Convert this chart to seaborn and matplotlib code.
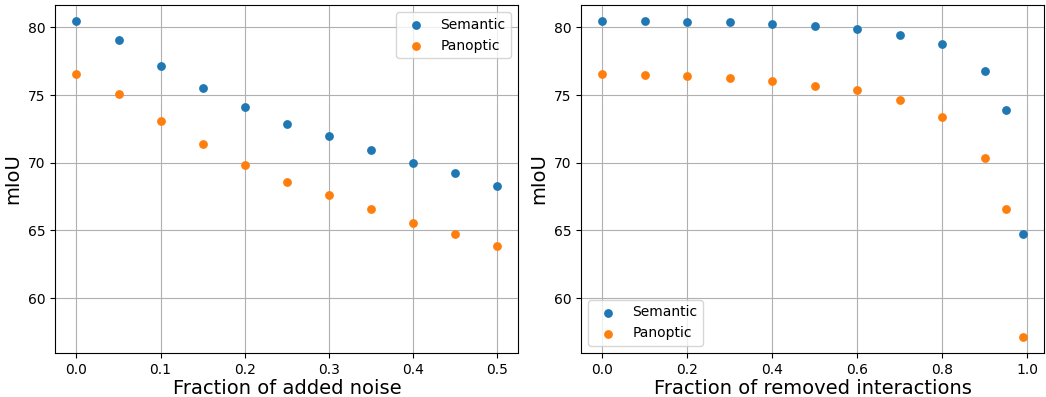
import matplotlib
matplotlib.use("Agg")
import matplotlib.pyplot as plt
import seaborn as sns

# left panel: noise
noise_frac = [0.0, 0.05, 0.1, 0.15, 0.2, 0.25, 0.3, 0.35, 0.4, 0.45, 0.5]
noise_semantic = [80.5, 79.08, 77.18, 75.5, 74.09, 72.87, 71.95, 70.97, 70.0, 69.25, 68.3]
noise_panoptic = [76.59, 75.06, 73.09, 71.36, 69.85, 68.61, 67.59, 66.59, 65.55, 64.74, 63.84]

# right panel: removed interactions
removed_frac = [0.0, 0.1, 0.2, 0.3, 0.4, 0.5, 0.6, 0.7, 0.8, 0.9, 0.95, 0.99]
removed_semantic = [80.47, 80.47, 80.42, 80.37, 80.25, 80.07, 79.88, 79.46, 78.79, 76.8, 73.92, 64.72]
removed_panoptic = [76.58, 76.51, 76.38, 76.26, 76.04, 75.69, 75.35, 74.66, 73.41, 70.36, 66.57, 57.12]

colors = sns.color_palette("tab10", 2)

fig, (ax1, ax2) = plt.subplots(1, 2, figsize=(10.46, 3.97), dpi=100)

panels = [
    (ax1, noise_frac, noise_semantic, noise_panoptic, "Fraction of added noise", "upper right"),
    (ax2, removed_frac, removed_semantic, removed_panoptic, "Fraction of removed interactions", "lower left"),
]
for ax, x, sem, pan, xlabel, loc in panels:
    sns.scatterplot(x=x, y=sem, ax=ax, color=colors[0], s=40, edgecolor="face", linewidth=0, label="Semantic", zorder=3)
    sns.scatterplot(x=x, y=pan, ax=ax, color=colors[1], s=40, edgecolor="face", linewidth=0, label="Panoptic", zorder=3)
    ax.grid(True, color="#b0b0b0", linewidth=0.8)
    ax.set_axisbelow(True)
    ax.set_xlabel(xlabel, fontsize=14, labelpad=2)
    ax.set_ylabel("mIoU", fontsize=14)
    ax.set_yticks([60, 65, 70, 75, 80])
    ax.legend(loc=loc, fontsize=10)

ax1.set_ylim(ax2.get_ylim())

fig.subplots_adjust(left=0.053, right=0.998, top=0.987, bottom=0.111, wspace=0.136)
fig.savefig("out.png", dpi=100)
